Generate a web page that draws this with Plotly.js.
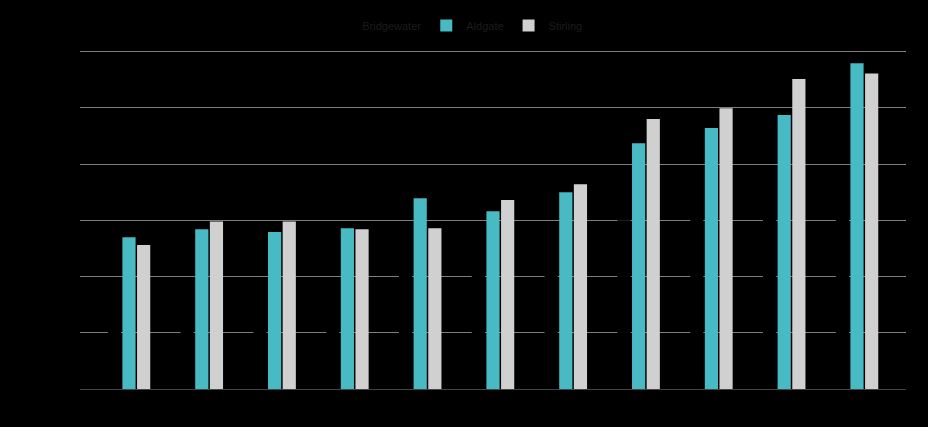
<!DOCTYPE html>
<html>
<head>
<meta charset="utf-8">
<script src="https://cdn.plot.ly/plotly-3.0.1.min.js"></script>
<style>html,body{margin:0;padding:0;background:#000;}#chart{width:928px;height:427px;}</style>
</head>
<body>
<div id="chart"></div>
<script>
var categories = ["2013","2014","2015","2016","2017","2018","2019","2020","2021","2022","2023"];
var bridgewater = [16, 16, 17, 17, 25, 22, 24, 30, 32, 34, 38];
var aldgate = [27.0, 28.4, 27.9, 28.6, 33.9, 31.6, 35.0, 43.7, 46.4, 48.7, 57.9];
var stirling = [25.6, 29.8, 29.8, 28.4, 28.6, 33.6, 36.4, 48.0, 49.9, 55.1, 56.1];

var traces = [
  {type:'bar', name:'Bridgewater', x:categories, y:bridgewater, marker:{color:'#000000'}},
  {type:'bar', name:'Aldgate', x:categories, y:aldgate, marker:{color:'#47bac4'}},
  {type:'bar', name:'Stirling', x:categories, y:stirling, marker:{color:'#d0d0d0'}}
];

var layout = {
  width:928, height:427,
  paper_bgcolor:'#000000', plot_bgcolor:'#000000',
  font:{family:'Liberation Sans, Arial, sans-serif', size:11, color:'#1a1a1a'},
  margin:{l:80, r:22, t:47, b:38},
  barmode:'group', bargap:0.396, bargroupgap:0.1,
  showlegend:true,
  legend:{orientation:'h', xref:'container', yref:'container', x:0.49, xanchor:'center', y:0.94, yanchor:'middle', font:{color:'#1c1c1c', size:11}},
  xaxis:{type:'category', range:[-0.673, 10.673], showgrid:false, showline:false, ticks:'', tickfont:{color:'#000000'}},
  yaxis:{range:[0, 60.8], dtick:10, gridcolor:'#7e7e7e', gridwidth:1, zeroline:true, zerolinecolor:'#444444', showline:false, tickfont:{color:'#000000'}}
};

Plotly.newPlot('chart', traces, layout, {displayModeBar:false, staticPlot:true});
</script>
</body>
</html>
